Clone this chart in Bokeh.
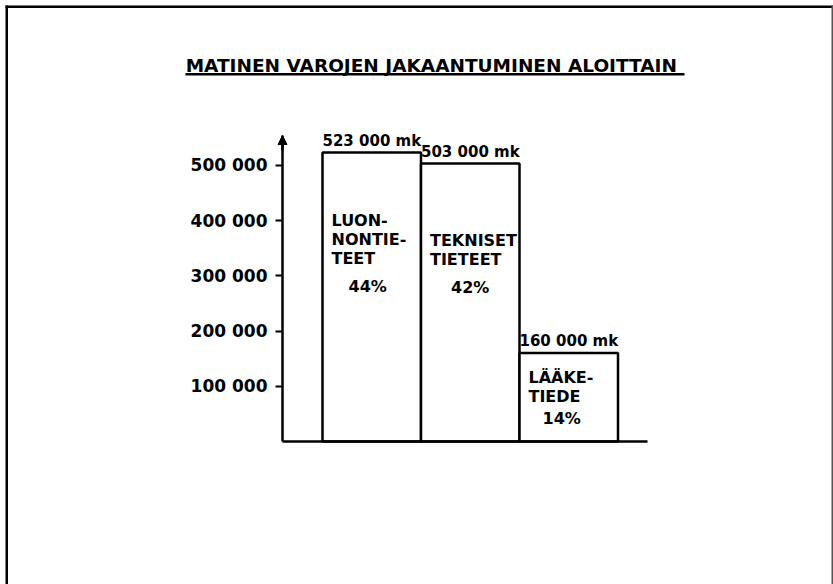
from bokeh.plotting import figure
from bokeh.models import (Range1d, LinearAxis, FixedTicker, LabelSet, Label,
                          ColumnDataSource, Arrow, NormalHead, BoxAnnotation)
from bokeh.core.properties import value
from bokeh.embed import file_html
from bokeh.resources import INLINE

# ---------------- data ----------------
title_text = "MATINEN  VAROJEN JAKAANTUMINEN ALOITTAIN"
categories = ["LUON-\nNONTIE-\nTEET", "TEKNISET\nTIETEET", "LÄÄKE-\nTIEDE"]
values = [523000, 503000, 160000]
percents = [44, 42, 14]
y_ticks = [100000, 200000, 300000, 400000, 500000]
y_tick_labels = ["100 000", "200 000", "300 000", "400 000", "500 000"]

# ---------------- layout (canvas pixels) ----------------
W, H = 833, 584
AXIS_X, AXIS_Y = 282, 441          # where the y axis / x axis lie
AXIS_TOP, AXIS_RIGHT = 135, 647     # arrow tip / end of x axis line
PX_PER_UNIT_Y = 0.5525 / 1000       # px per mk
BAR_PX = 98.5                       # px per bar
FIRST_BAR_GAP = 40                  # px between y axis and first bar

UPP = 1 / PX_PER_UNIT_Y             # mk per px
X0 = -FIRST_BAR_GAP / BAR_PX        # data x of the y axis

def cx(px):   # canvas x px -> data x
    return X0 + (px - AXIS_X) / BAR_PX

def cy(py):   # canvas y px -> data y
    return (AXIS_Y - py) * UPP

FONT = "DejaVu Sans"

p = figure(width=W, height=H, output_backend="svg", toolbar_location=None,
           x_range=Range1d(cx(0), cx(W)), y_range=Range1d(cy(H), cy(0)),
           x_axis_type=None, y_axis_type=None,
           min_border=0)
p.outline_line_color = None
p.xgrid.visible = False
p.ygrid.visible = False
p.background_fill_color = "white"
p.border_fill_color = "white"

# y axis
yaxis = LinearAxis(ticker=FixedTicker(ticks=y_ticks), fixed_location=X0,
                   bounds=(0, cy(AXIS_TOP)),
                   major_label_overrides={t: l for t, l in zip(y_ticks, y_tick_labels)})
yaxis.axis_line_width = 2.5
yaxis.axis_line_color = "black"
yaxis.major_tick_line_width = 2
yaxis.major_tick_line_color = "black"
yaxis.major_tick_out = 7
yaxis.major_tick_in = 0
yaxis.minor_tick_line_color = None
yaxis.major_label_standoff = 8
yaxis.major_label_text_font = FONT
yaxis.major_label_text_font_style = "bold"
yaxis.major_label_text_font_size = "17px"
yaxis.major_label_text_color = "black"
p.add_layout(yaxis, "left")

# x axis (line only)
xaxis = LinearAxis(ticker=FixedTicker(ticks=[]), fixed_location=0,
                   bounds=(X0, cx(AXIS_RIGHT)))
xaxis.axis_line_width = 2.5
xaxis.axis_line_color = "black"
xaxis.major_tick_line_color = None
xaxis.minor_tick_line_color = None
xaxis.major_label_text_color = None
p.add_layout(xaxis, "below")

# arrow head on the y axis
p.add_layout(Arrow(end=NormalHead(size=9, fill_color="black", line_color="black"),
                   x_start=X0, x_end=X0, y_start=cy(AXIS_TOP + 15), y_end=cy(AXIS_TOP),
                   line_width=2.5, line_color="black"))

# bars
xs = [i + 0.5 for i in range(len(values))]
lefts = [float(i) for i in range(len(values))]
src = ColumnDataSource(dict(x=xs, left=lefts, top=values))
p.vbar(x="x", width=1.0, top="top", bottom=0, source=src,
       fill_color="white", line_color="black", line_width=2.5)

# value labels above bars
vsrc = ColumnDataSource(dict(
    x=lefts, y=[v + 3 * UPP for v in values],
    t=[f"{v:,}".replace(",", " ") + " mk" for v in values]))
p.add_layout(LabelSet(x="x", y="y", text="t", source=vsrc, text_align="left",
                      text_baseline="bottom", text_font=value(FONT),
                      text_font_style="bold", text_font_size="15px", text_color="black"))

# inner name and percent labels (pixel drops below each bar top)
name_drop_px = [68, 77, 24]
line_gap_px = 19
pct_drop_px = [134, 124, 65]
pct_shift_px = [-4, 0, -7]
nx, ny, nt = [], [], []
for i, (cat, v) in enumerate(zip(categories, values)):
    for k, line in enumerate(cat.split("\n")):
        nx.append(lefts[i] + 9 / BAR_PX)
        ny.append(v - (name_drop_px[i] + k * line_gap_px) * UPP)
        nt.append(line)
p.add_layout(LabelSet(x="x", y="y", text="t",
                      source=ColumnDataSource(dict(x=nx, y=ny, t=nt)),
                      text_align="left", text_baseline="middle", text_font=value(FONT),
                      text_font_style="bold", text_font_size="16px", text_color="black"))
psrc = ColumnDataSource(dict(
    x=[x + s / BAR_PX for x, s in zip(xs, pct_shift_px)],
    y=[v - d * UPP for v, d in zip(values, pct_drop_px)],
    t=[f"{q}%" for q in percents]))
p.add_layout(LabelSet(x="x", y="y", text="t", source=psrc, text_align="center",
                      text_baseline="middle", text_font=value(FONT), text_font_style="bold",
                      text_font_size="16px", text_color="black"))

# title with underline
p.add_layout(Label(x=cx(434), y=cy(65), text=title_text, text_align="center",
                   text_baseline="middle", text_font=FONT, text_font_style="bold",
                   text_font_size="18.5px", text_color="black"))
p.add_layout(BoxAnnotation(left=cx(185), right=cx(684), bottom=cy(75), top=cy(72.5),
                           fill_color="black", fill_alpha=1, line_color=None))

# scanned page frame (top, left, right)
p.add_layout(BoxAnnotation(left=cx(5), right=cx(W), bottom=cy(7.5), top=cy(5),
                           fill_color="black", fill_alpha=1, line_color=None))
p.add_layout(BoxAnnotation(left=cx(5), right=cx(7.5), bottom=cy(H), top=cy(5),
                           fill_color="black", fill_alpha=1, line_color=None))
p.add_layout(BoxAnnotation(left=cx(831), right=cx(832.5), bottom=cy(H), top=cy(5),
                           fill_color="#555555", fill_alpha=1, line_color=None))

open("out.html", "w").write(file_html(p, INLINE))
